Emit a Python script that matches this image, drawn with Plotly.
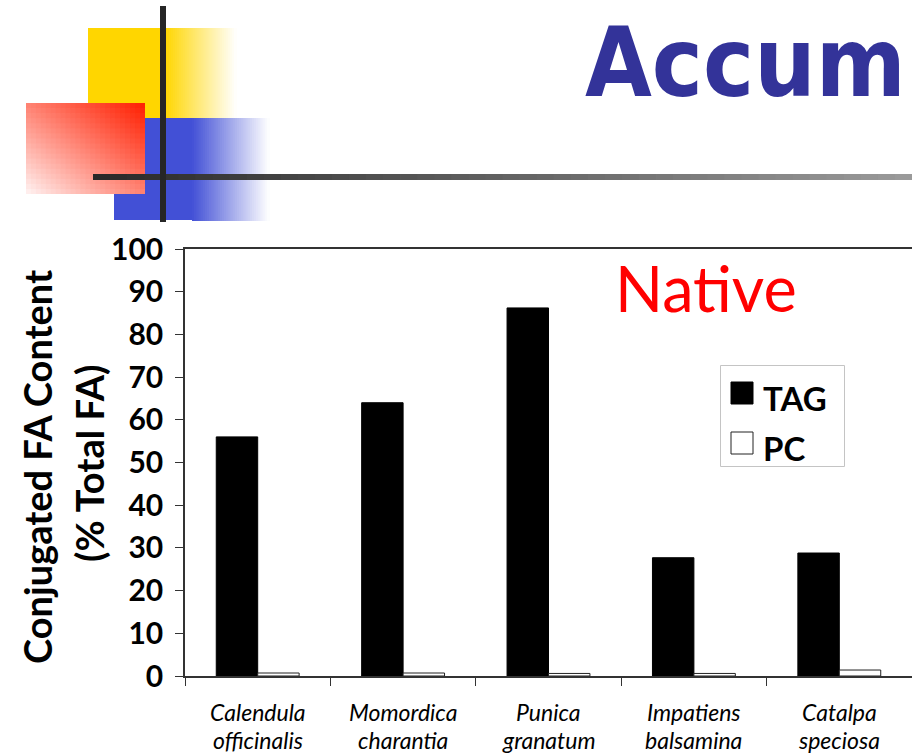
import plotly.graph_objects as go

# ---- data -------------------------------------------------------------
genus = ["Calendula", "Momordica", "Punica", "Impatiens", "Catalpa"]
epithet = ["officinalis", "charantia", "granatum", "balsamina", "speciosa"]
species = [f"{g} {e}" for g, e in zip(genus, epithet)]
tag_values = [56.0, 64.0, 86.2, 27.7, 28.8]
pc_values = [0.7, 0.7, 0.6, 0.6, 1.4]
series_names = ["TAG", "PC"]
y_ticks = [0, 10, 20, 30, 40, 50, 60, 70, 80, 90, 100]

# ---- page geometry (pixels) ------------------------------------------
W, H = 912, 755
ML, MT, MR, MB = 185, 249, 0, 79
PW, PH = W - ML - MR, H - MT - MB


def px(x):
    return (x - ML) / PW


def py(y):
    return (MT + PH - y) / PH


def mix(c1, c2, t):
    return "rgb({},{},{})".format(*[round(a + (b - a) * t) for a, b in zip(c1, c2)])


def rect(x0, y0, x1, y1, color, line=None):
    d = dict(type="rect", xref="paper", yref="paper",
             x0=px(x0), x1=px(x1), y0=py(y1), y1=py(y0),
             fillcolor=color, layer="above")
    d["line"] = line if line else dict(width=0)
    return d


shapes = []
WHITE = (255, 255, 255)

# yellow block: solid, then fading to white on the right
YEL = (255, 214, 0)
shapes.append(rect(88, 28, 166, 118, mix(YEL, YEL, 0)))
n = 36
for i in range(n):
    xa = 165 + (236 - 165) * i / n
    xb = 165 + (236 - 165) * (i + 1) / n + 0.8
    shapes.append(rect(xa, 28, xb, 118, mix(YEL, WHITE, (i + 0.5) / n)))

# blue block: solid, then fading to white on the right
BLU = (66, 80, 214)
shapes.append(rect(114, 118, 193, 220, mix(BLU, BLU, 0)))
for i in range(n):
    xa = 192 + (269 - 192) * i / n
    xb = 192 + (269 - 192) * (i + 1) / n + 0.8
    shapes.append(rect(xa, 118, xb, 221, mix(BLU, WHITE, (i + 0.5) / n)))

# red block: diagonal fade from top-right (red) to bottom-left (white)
RED = (255, 30, 0)
RX0, RY0, RX1, RY1 = 26, 103, 145, 194
nx, ny = 24, 18
for i in range(nx):
    for j in range(ny):
        xa = RX0 + (RX1 - RX0) * i / nx
        xb = RX0 + (RX1 - RX0) * (i + 1) / nx
        ya = RY0 + (RY1 - RY0) * j / ny
        yb = RY0 + (RY1 - RY0) * (j + 1) / ny
        t = ((i + 0.5) / nx + 1 - (j + 0.5) / ny) / 2
        shapes.append(rect(xa, ya, min(xb + 0.8, RX1), min(yb + 0.8, RY1),
                           mix((255, 246, 246), RED, t ** 0.9)))

# horizontal rule with dark-to-light grey fade
m = 48
for i in range(m):
    xa = 93 + (W - 93) * i / m
    xb = 93 + (W - 93) * (i + 1) / m + 0.8
    shapes.append(rect(xa, 174, xb, 180, mix((40, 40, 40), (155, 155, 155), (i + 0.5) / m)))

# vertical rule
shapes.append(rect(160, 6, 166, 222, "#262626"))

# legend box and swatches
shapes.append(rect(720.5, 365.5, 844.5, 466.5, "rgba(0,0,0,0)",
                   line=dict(color="#c4c4c4", width=1)))
shapes.append(rect(731, 382, 753, 404, "black", line=dict(color="black", width=1)))
shapes.append(rect(731, 432, 753, 454, "white", line=dict(color="#222", width=1)))

# ---- figure -------------------------------------------------------------
fig = go.Figure()
fig.add_bar(x=species, y=tag_values, name=series_names[0],
            marker=dict(color="black", line=dict(color="black", width=1)))
fig.add_bar(x=species, y=pc_values, name=series_names[1],
            marker=dict(color="white", line=dict(color="#222222", width=1)))

annotations = []
# slide title (runs off the right edge of the page)
annotations.append(dict(text="<b>Accumulation</b>", xref="paper", yref="paper",
                        x=px(583), y=py(63), xanchor="left", yanchor="middle",
                        showarrow=False,
                        font=dict(family="DejaVu Sans Condensed", size=96, color="#333399")))
# panel label
annotations.append(dict(text="Native", xref="paper", yref="paper",
                        x=px(706), y=py(287), xanchor="center", yanchor="middle",
                        showarrow=False, font=dict(family="Lato", size=63, color="#ff0000")))
# legend labels
annotations.append(dict(text=f"<b>{series_names[0]}</b>", xref="paper", yref="paper",
                        x=px(761), y=py(398), xanchor="left", yanchor="middle",
                        showarrow=False, font=dict(family="Lato", size=33, color="black")))
annotations.append(dict(text=f"<b>{series_names[1]}</b>", xref="paper", yref="paper",
                        x=px(761), y=py(448), xanchor="left", yanchor="middle",
                        showarrow=False, font=dict(family="Lato", size=33, color="black")))
# y-axis title, two lines
annotations.append(dict(text="<b>Conjugated FA Content</b>", xref="paper", yref="paper",
                        x=px(37), y=py(467), xanchor="center", yanchor="middle",
                        textangle=-90, showarrow=False,
                        font=dict(family="Lato", size=38, color="black")))
annotations.append(dict(text="<b>(% Total FA)</b>", xref="paper", yref="paper",
                        x=px(89), y=py(463), xanchor="center", yanchor="middle",
                        textangle=-90, showarrow=False,
                        font=dict(family="Lato", size=38, color="black")))
# category labels, genus over epithet
for name, g, e in zip(species, genus, epithet):
    annotations.append(dict(text=g, xref="x", yref="paper", x=name, y=py(712),
                            xanchor="center", yanchor="middle", showarrow=False,
                            font=dict(family="Lato", size=23, style="italic", color="black")))
    annotations.append(dict(text=e, xref="x", yref="paper", x=name, y=py(740),
                            xanchor="center", yanchor="middle", showarrow=False,
                            font=dict(family="Lato", size=23, style="italic", color="black")))

fig.update_layout(
    width=W, height=H,
    margin=dict(l=ML, r=MR, t=MT, b=MB, pad=0),
    paper_bgcolor="white", plot_bgcolor="white",
    barmode="group", bargap=0.43, bargroupgap=0,
    showlegend=False,
    shapes=shapes, annotations=annotations,
    xaxis=dict(type="category", showticklabels=False, tickson="boundaries",
               ticks="outside", ticklen=8, tickcolor="#333", tickwidth=1,
               showline=True, linecolor="#333", linewidth=1.5, mirror=True,
               showgrid=False, zeroline=False, range=[-0.5, 4.5]),
    yaxis=dict(range=[0, 100], tickvals=y_ticks, ticks="outside", ticklen=8,
               tickcolor="#333", tickwidth=1, showline=True, linecolor="#333",
               linewidth=1.5, showgrid=False, zeroline=False,
               ticklabelstandoff=6,
               tickfont=dict(family="Lato", size=30, color="black", weight="bold")),
)

fig.write_html("out.html")
